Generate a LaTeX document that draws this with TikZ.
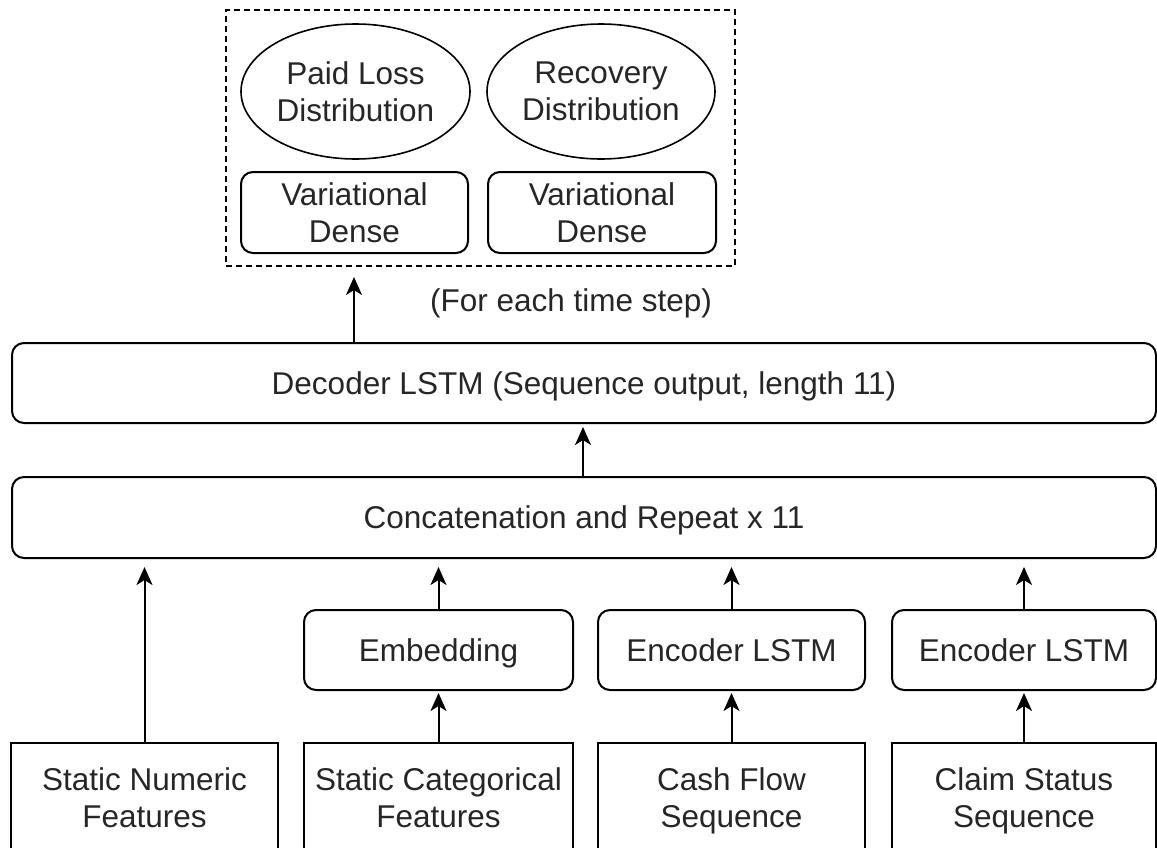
\documentclass[tikz,border=0pt]{standalone}
\usepackage{fontspec}
\setmainfont{Liberation Sans}
\usetikzlibrary{shapes.geometric,arrows.meta}
\begin{document}
\begin{tikzpicture}[x=1pt,y=-1pt,
  every node/.style={font=\fontsize{31.5}{37}\selectfont, text=black!85,
    align=center, inner sep=0pt, outer sep=0pt, text depth=0pt},
  box/.style={draw, line width=2pt, minimum height=80pt},
  rbox/.style={box, rounded corners=12pt},
  inbox/.style={box, minimum height=110pt},
  oval/.style={draw, ellipse, line width=1.6pt, minimum height=135pt},
  group/.style={draw, dashed, dash pattern=on 6pt off 4pt, line width=1.8pt},
  link/.style={line width=2pt, -{Stealth[length=18pt,width=16pt,inset=5pt]}},
]
\useasboundingbox (0,0) rectangle (1157,847);
\clip (0,0) rectangle (1157,847);

% output heads
\node[group, minimum width=509pt, minimum height=256pt] (heads) at (480.5,138) {};
\node[oval, minimum width=229pt] (paid) at (355.5,91.5) {Paid Loss\\Distribution};
\node[oval, minimum width=228pt] (recov) at (601,91.5) {Recovery\\Distribution};
\node[rbox, minimum width=227pt, minimum height=81pt] (vd1) at (354.5,212.5) {Variational\\Dense};
\node[rbox, minimum width=228pt, minimum height=81pt] (vd2) at (602,212.5) {Variational\\Dense};
\node (note) at (571,300) {(For each time step)};

% shared trunk
\node[rbox, minimum width=1144pt] (dec) at (584,383) {Decoder LSTM (Sequence output, length 11)};
\node[rbox, minimum width=1144pt, minimum height=81pt] (cat) at (584,517.5) {Concatenation and Repeat x 11};

% per-input encoders
\node[rbox, minimum width=269pt] (emb) at (438.5,650) {Embedding};
\node[rbox, minimum width=267pt] (enc1) at (731.5,650) {Encoder LSTM};
\node[rbox, minimum width=264pt] (enc2) at (1024,650) {Encoder LSTM};

% inputs
\node[inbox, minimum width=267pt] (snum) at (144.5,798) {Static Numeric\\Features};
\node[inbox, minimum width=269pt] (scat) at (438.5,798) {Static Categorical\\Features};
\node[inbox, minimum width=267pt] (cash) at (731.5,798) {Cash Flow\\Sequence};
\node[inbox, minimum width=264pt] (claim) at (1024,798) {Claim Status\\Sequence};

% connectors
\draw[link, shorten >=9pt] (snum.north) -- (snum.north |- cat.south);
\draw[link, shorten >=3pt] (scat) -- (emb);
\draw[link, shorten >=3pt] (cash) -- (enc1);
\draw[link, shorten >=3pt] (claim) -- (enc2);
\draw[link, shorten >=9pt] (emb) -- (emb |- cat.south);
\draw[link, shorten >=9pt] (enc1) -- (enc1 |- cat.south);
\draw[link, shorten >=9pt] (enc2) -- (enc2 |- cat.south);
\draw[link, shorten >=4pt] (cat.north -| 583,0) -- (dec.south -| 583,0);
\draw[link, shorten >=11pt] (dec.north -| 354,0) -- (heads.south -| 354,0);
\end{tikzpicture}
\end{document}
